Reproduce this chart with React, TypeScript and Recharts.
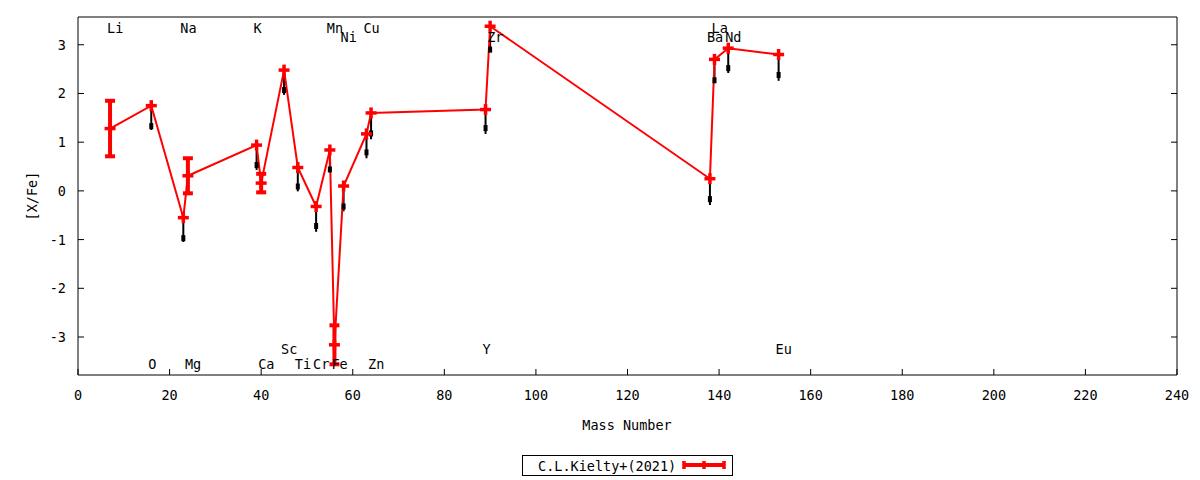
import React from 'react';
import { ComposedChart, Line, Scatter, XAxis, YAxis, ErrorBar } from 'recharts';

// Element / mass number / [X/Fe] (C.L.Kielty+(2021))
const elements = ['Li', 'O', 'Na', 'Mg', 'K', 'Ca', 'Sc', 'Ti', 'Cr', 'Mn', 'Fe', 'Ni', 'Cu', 'Zn', 'Y', 'Zr', 'Ba', 'La', 'Nd', 'Eu'];
const massNumbers = [7, 16, 23, 24, 39, 40, 45, 48, 52, 55, 56, 58, 63, 64, 89, 90, 138, 139, 142, 153];
const xfeValues = [1.28, 1.75, -0.55, 0.31, 0.94, 0.16, 2.48, 0.48, -0.32, 0.84, -3.16, 0.1, 1.17, 1.6, 1.67, 3.38, 0.25, 2.7, 2.93, 2.8];
const xfeErrors = [0.57, 0, 0, 0.36, 0, 0.19, 0, 0, 0, 0, 0.4, 0, 0, 0, 0, 0, 0, 0, 0, 0];

// secondary (black) values with their ranges
const refMass = [16, 23, 39, 45, 48, 52, 55, 58, 63, 64, 89, 90, 138, 139, 142, 153];
const refValues = [1.33, -0.97, 0.53, 2.07, 0.09, -0.72, 0.44, -0.32, 0.79, 1.18, 1.29, 2.9, -0.17, 2.27, 2.52, 2.38];
const refLow = [1.25, -1.05, 0.43, 1.97, -0.01, -0.84, 0.4, -0.42, 0.67, 1.06, 1.17, 2.86, -0.29, 2.22, 2.42, 2.26];
const refHigh = [1.75, -0.55, 0.94, 2.48, 0.48, -0.32, 0.84, 0.1, 1.17, 1.6, 1.67, 3.38, 0.25, 2.7, 2.93, 2.8];

// element label rows (y in data units)
const labelY = [3.35, -3.55, 3.35, -3.55, 3.35, -3.55, -3.25, -3.55, -3.55, 3.35, -3.55, 3.15, 3.35, -3.55, -3.25, 3.15, 3.15, 3.35, 3.15, -3.25];

const xTicks = [0, 20, 40, 60, 80, 100, 120, 140, 160, 180, 200, 220, 240];
const yTicks = [-3, -2, -1, 0, 1, 2, 3];
const xDomain: [number, number] = [0, 240];
const yDomain: [number, number] = [-3.78, 3.57];

const RED = '#ff0000';
const FONT = '"DejaVu Sans Mono", "Liberation Mono", monospace';
const FS = 13.5;
const TICK = 6;
const TINY = 0.01;

const redData = massNumbers.map((x, i) => ({ x, y: xfeValues[i], err: xfeErrors[i] }));
const blackData = refMass.map((x, i) => ({
  x,
  y: refValues[i],
  err: [refValues[i] - refLow[i], refHigh[i] - refValues[i]],
}));
const labelData = massNumbers.map((x, i) => ({ x, y: labelY[i], name: elements[i] }));

const BottomTick = (p: any) => (
  <g>
    <line x1={p.x} x2={p.x} y1={p.y} y2={p.y - TICK} stroke="#000" strokeWidth={1} />
    <text x={p.x} y={p.y + 20} textAnchor="middle" dominantBaseline="central" fontFamily={FONT} fontSize={FS} fill="#000">
      {p.payload.value}
    </text>
  </g>
);
const LeftTick = (p: any) => (
  <g>
    <line x1={p.x} x2={p.x + TICK} y1={p.y} y2={p.y} stroke="#000" strokeWidth={1} />
    <text x={p.x - 12} y={p.y} textAnchor="end" dominantBaseline="central" fontFamily={FONT} fontSize={FS} fill="#000">
      {p.payload.value}
    </text>
  </g>
);
const TopTick = (p: any) => <line x1={p.x} x2={p.x} y1={p.y} y2={p.y + TICK} stroke="#000" strokeWidth={1} />;
const RightTick = (p: any) => <line x1={p.x} x2={p.x - TICK} y1={p.y} y2={p.y} stroke="#000" strokeWidth={1} />;

const PlusDot = (props: any) => {
  const { cx, cy } = props;
  if (cx == null || cy == null || isNaN(cx) || isNaN(cy)) return <g />;
  return (
    <g>
      <line x1={cx - 5.5} x2={cx + 5.5} y1={cy} y2={cy} stroke={RED} strokeWidth={3.5} />
      <line x1={cx} x2={cx} y1={cy - 5.5} y2={cy + 5.5} stroke={RED} strokeWidth={3.5} />
    </g>
  );
};

const BlackMark = (props: any) => {
  const { cx, cy } = props;
  if (cx == null || cy == null) return <g />;
  return <rect x={cx - 2} y={cy - 3} width={4} height={6} fill="#000" />;
};

const LabelMark = (props: any) => {
  const { cx, cy, payload } = props;
  if (cx == null || cy == null) return <g />;
  return (
    <text x={cx - 3} y={cy} dominantBaseline="central" textAnchor="start" fontFamily={FONT} fontSize={FS} fill="#000">
      {payload.name}
    </text>
  );
};

export default function App() {
  return (
    <div style={{ position: 'absolute', left: 0, top: 0, width: 1200, height: 480, background: '#fff' }}>
      <ComposedChart
        width={1200}
        height={480}
        margin={{ top: 17 - TINY, right: 23 - TINY, bottom: 0, left: 0 }}
        style={{ fontFamily: FONT }}
      >
        <XAxis
          xAxisId="b"
          type="number"
          dataKey="x"
          domain={xDomain}
          ticks={xTicks}
          allowDataOverflow
          height={105}
          tickSize={0}
          tickMargin={0}
          tickLine={false}
          stroke="#000"
          tick={<BottomTick />}
          label={(p: any) => (
            <text x={627} y={425} textAnchor="middle" dominantBaseline="central" fontFamily={FONT} fontSize={FS} fill="#000">
              Mass Number
            </text>
          )}
        />
        <XAxis
          xAxisId="t"
          orientation="top"
          type="number"
          domain={xDomain}
          ticks={xTicks}
          allowDataOverflow
          height={TINY}
          tickSize={0}
          tickMargin={0}
          tickLine={false}
          tick={<TopTick />}
          stroke="#000"
        />
        <YAxis
          yAxisId="l"
          type="number"
          domain={yDomain}
          ticks={yTicks}
          allowDataOverflow
          width={78}
          tickSize={0}
          tickMargin={0}
          tickLine={false}
          stroke="#000"
          tick={<LeftTick />}
          label={(p: any) => (
            <text x={32} y={196} transform="rotate(-90 32 196)" textAnchor="middle" dominantBaseline="central" fontFamily={FONT} fontSize={FS} fill="#000">
              [X/Fe]
            </text>
          )}
        />
        <YAxis
          yAxisId="r"
          orientation="right"
          type="number"
          domain={yDomain}
          ticks={yTicks}
          allowDataOverflow
          width={TINY}
          tickSize={0}
          tickMargin={0}
          tickLine={false}
          tick={<RightTick />}
          stroke="#000"
        />
        <Scatter
          xAxisId="b"
          yAxisId="l"
          data={blackData}
          dataKey="y"
          shape={<BlackMark />}
          isAnimationActive={false}
        >
          <ErrorBar dataKey="err" direction="y" stroke="#000" strokeWidth={2} width={0} />
        </Scatter>
        <Line
          xAxisId="b"
          yAxisId="l"
          data={redData}
          dataKey="y"
          type="linear"
          stroke={RED}
          strokeWidth={2}
          dot={(p: any) => <PlusDot key={`d${p.index}`} cx={p.cx} cy={p.cy} />}
          activeDot={false}
          isAnimationActive={false}
        >
          <ErrorBar dataKey="err" direction="y" stroke={RED} strokeWidth={4} width={5} />
        </Line>
        <Scatter
          xAxisId="b"
          yAxisId="l"
          data={labelData}
          dataKey="y"
          shape={<LabelMark />}
          isAnimationActive={false}
        />
      </ComposedChart>
      <svg width={1200} height={480} style={{ position: 'absolute', left: 0, top: 0, pointerEvents: 'none' }}>
        <rect x={522.5} y={455.5} width={210} height={20} fill="none" stroke="#000" strokeWidth={1} />
        <text x={538} y={465.5} dominantBaseline="central" fontFamily={FONT} fontSize={FS} fill="#000">
          C.L.Kielty+(2021)
        </text>
        <line x1={683} x2={725} y1={465} y2={465} stroke={RED} strokeWidth={4} />
        <line x1={684} x2={684} y1={461} y2={469} stroke={RED} strokeWidth={3.5} />
        <line x1={704} x2={704} y1={461} y2={469} stroke={RED} strokeWidth={3.5} />
        <line x1={724} x2={724} y1={461} y2={469} stroke={RED} strokeWidth={3.5} />
      </svg>
    </div>
  );
}
